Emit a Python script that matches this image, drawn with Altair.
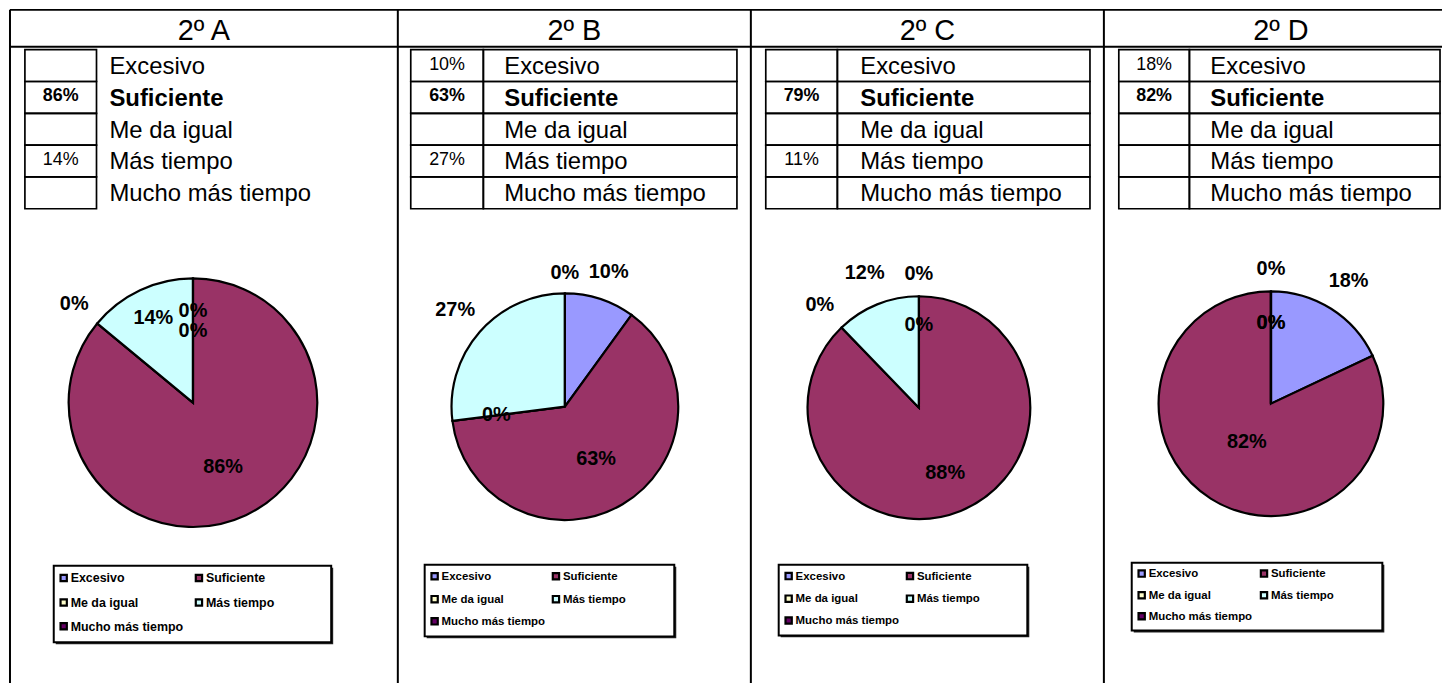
import altair as alt
import pandas as pd

# ---------------- data ----------------
GROUPS = ["2º A", "2º B", "2º C", "2º D"]
CATEGORIES = ["Excesivo", "Suficiente", "Me da igual", "Más tiempo", "Mucho más tiempo"]
COLORS = ["#9999FF", "#993366", "#FFFFCC", "#CCFFFF", "#660066"]
VALUES_A = [None, 86, None, 14, None]
VALUES_B = [10, 63, None, 27, None]
VALUES_C = [None, 79, None, 11, None]
VALUES_D = [18, 82, None, None, None]
VALUES = [VALUES_A, VALUES_B, VALUES_C, VALUES_D]
BOLD_CATEGORY = "Suficiente"

# ---------------- layout ----------------
FONT = "Liberation Sans"
W, H = 1442, 675
X0, Y0 = 8, 8
COL_EDGES = [10, 400, 755, 1110, 1466]
TOP, HEAD_BOTTOM, BOTTOM = 8, 45, 720
HEAD_Y = 29
ROW_TOP, ROW_H = 48, 32
TABLES = [
    dict(x0=25, xd=97, x1=None, pad=13),
    dict(x0=413, xd=486, x1=741, pad=21),
    dict(x0=770, xd=842, x1=1096, pad=23),
    dict(x0=1125, xd=1196, x1=1448, pad=21),
]
PIES = [
    dict(cx=194, cy=403, r=125),
    dict(cx=568, cy=407, r=114),
    dict(cx=924, cy=408, r=112),
    dict(cx=1278, cy=404, r=113),
]
# label distance from centre, as a fraction of the radius (inside / outside placement)
LABEL_RF = [
    [0.74, 0.57, 1.24, 0.75, 0.58],
    [1.25, 0.54, 0.61, 1.29, 1.18],
    [1.20, 0.63, 1.28, 1.30, 0.74],
    [1.29, 0.40, 0.72, 0.72, 1.20],
]
LEGENDS = [
    dict(x0=54, y0=567, x1=333, y1=644, dx2=146, fs=12.5),
    dict(x0=427, y0=566, x1=678, y1=638, dx2=132, fs=11.5),
    dict(x0=783, y0=566, x1=1033, y1=637, dx2=132, fs=11.5),
    dict(x0=1138, y0=564, x1=1390, y1=632, dx2=133, fs=11.5),
]
LEG_ROWS = [0.16, 0.48, 0.79]

xs = alt.Scale(domain=[X0, X0 + W], nice=False, zero=False)
ys = alt.Scale(domain=[Y0, Y0 + H], nice=False, zero=False, reverse=True)
ts = alt.Scale(domain=[0, 1])
cs = alt.Scale(domain=CATEGORIES, range=COLORS)


def X(f):
    return alt.X(f"{f}:Q", scale=xs, axis=None)


def Y(f):
    return alt.Y(f"{f}:Q", scale=ys, axis=None)


# ---------------- frames ----------------
lines, cells, vtext, ltext, heads, pie, leg_box, leg_sw, leg_tx = [], [], [], [], [], [], [], [], []

for e in COL_EDGES:
    lines.append(dict(x=e, x2=e, y=TOP, y2=BOTTOM))
for yy in (TOP, HEAD_BOTTOM):
    lines.append(dict(x=COL_EDGES[0], x2=COL_EDGES[-1], y=yy, y2=yy))

for gi, g in enumerate(GROUPS):
    heads.append(dict(x=(COL_EDGES[gi] + COL_EDGES[gi + 1]) / 2, y=HEAD_Y, t=g))
    tb = TABLES[gi]
    pc = PIES[gi]
    lg = LEGENDS[gi]
    leg_box.append(dict(x=lg["x0"], x2=lg["x1"], y=lg["y0"], y2=lg["y1"],
                        sx=lg["x0"] + 2, sx2=lg["x1"] + 2, sy=lg["y0"] + 2, sy2=lg["y1"] + 2))
    for ci, c in enumerate(CATEGORIES):
        v = VALUES[gi][ci]
        yt, yb = ROW_TOP + ci * ROW_H, ROW_TOP + (ci + 1) * ROW_H
        ym = (yt + yb) / 2
        cells.append(dict(x=tb["x0"], x2=tb["xd"], y=yt, y2=yb))
        if tb["x1"] is not None:
            cells.append(dict(x=tb["xd"], x2=tb["x1"], y=yt, y2=yb))
        if v is not None:
            vtext.append(dict(x=(tb["x0"] + tb["xd"]) / 2, y=ym - 1, t=f"{v}%",
                              b=(c == BOLD_CATEGORY)))
        ltext.append(dict(x=tb["xd"] + tb["pad"], y=ym + 1.5, t=c, b=(c == BOLD_CATEGORY)))
        pie.append(dict(group=g, cat=c, idx=ci, v=(v if v is not None else 0),
                        cx=pc["cx"], cy=pc["cy"], R=pc["r"], lr=LABEL_RF[gi][ci] * pc["r"]))
        col, row = ci % 2, ci // 2
        sx = lg["x0"] + 10 + col * (lg["dx2"] - 10)
        sy = lg["y0"] + LEG_ROWS[row] * (lg["y1"] - lg["y0"])
        leg_sw.append(dict(x=sx, y=sy, cat=c))
        leg_tx.append(dict(x=sx + 7, y=sy + 0.5, t=c, fs=lg["fs"]))

df_lines = pd.DataFrame(lines)
df_cells = pd.DataFrame(cells)
df_v = pd.DataFrame(vtext)
df_l = pd.DataFrame(ltext)
df_h = pd.DataFrame(heads)
df_pie = pd.DataFrame(pie)
df_lb = pd.DataFrame(leg_box)
df_ls = pd.DataFrame(leg_sw)
df_lt = pd.DataFrame(leg_tx)

# ---------------- layers ----------------
rules = alt.Chart(df_lines).mark_rule(color="black", strokeWidth=2).encode(
    x=X("x"), x2="x2:Q", y=Y("y"), y2="y2:Q")

cell_rects = alt.Chart(df_cells).mark_rect(fill="white", fillOpacity=0, stroke="black",
                                           strokeWidth=1.7).encode(
    x=X("x"), x2="x2:Q", y=Y("y"), y2="y2:Q")

head_txt = alt.Chart(df_h).mark_text(font=FONT, fontSize=29, align="center",
                                     baseline="middle", color="black").encode(
    x=X("x"), y=Y("y"), text="t:N")

val_norm = alt.Chart(df_v[~df_v.b]).mark_text(font=FONT, fontSize=18, align="center",
                                              baseline="middle", color="black").encode(
    x=X("x"), y=Y("y"), text="t:N")
val_bold = alt.Chart(df_v[df_v.b]).mark_text(font=FONT, fontSize=18, fontWeight="bold",
                                             align="center", baseline="middle",
                                             color="black").encode(
    x=X("x"), y=Y("y"), text="t:N")
lab_norm = alt.Chart(df_l[~df_l.b]).mark_text(font=FONT, fontSize=24, align="left",
                                              baseline="middle", color="black").encode(
    x=X("x"), y=Y("y"), text="t:N")
lab_bold = alt.Chart(df_l[df_l.b]).mark_text(font=FONT, fontSize=24, fontWeight="bold",
                                             align="left", baseline="middle",
                                             color="black").encode(
    x=X("x"), y=Y("y"), text="t:N")

pie_base = alt.Chart(df_pie).transform_joinaggregate(
    total="sum(v)", groupby=["group"]
).transform_stack(
    stack="v", groupby=["group"], as_=["v0", "v1"],
    sort=[alt.SortField("idx", order="ascending")], offset="normalize"
).transform_calculate(
    mid="(datum.v0 + datum.v1) / 2",
    lab="format(datum.v / datum.total, '.0%')"
)

arcs = pie_base.mark_arc(stroke="black", strokeWidth=2.2).encode(
    x=X("cx"), y=Y("cy"),
    theta=alt.Theta("v0:Q", scale=ts, stack=False), theta2="v1:Q",
    radius=alt.Radius("R:Q", scale=None),
    color=alt.Color("cat:N", scale=cs, legend=None),
)

pie_lab = pie_base.mark_text(font=FONT, fontSize=20, fontWeight="bold", align="center",
                             baseline="middle", color="black").encode(
    x=X("cx"), y=Y("cy"),
    theta=alt.Theta("mid:Q", scale=ts, stack=False),
    radius=alt.Radius("lr:Q", scale=None),
    text="lab:N",
)

leg_shadow = alt.Chart(df_lb).mark_rect(fill="#222222").encode(
    x=X("sx"), x2="sx2:Q", y=Y("sy"), y2="sy2:Q")
leg_frame = alt.Chart(df_lb).mark_rect(fill="white", stroke="black", strokeWidth=2).encode(
    x=X("x"), x2="x2:Q", y=Y("y"), y2="y2:Q")
leg_swatch = alt.Chart(df_ls).mark_square(size=40, filled=True, opacity=1, stroke="black",
                                          strokeWidth=2.2).encode(
    x=X("x"), y=Y("y"), color=alt.Color("cat:N", scale=cs, legend=None))
leg_text = alt.Chart(df_lt).mark_text(font=FONT, fontWeight="bold", align="left",
                                      baseline="middle", color="black").encode(
    x=X("x"), y=Y("y"), text="t:N", size=alt.Size("fs:Q", scale=None))

chart = alt.layer(
    rules, cell_rects, head_txt, val_norm, val_bold, lab_norm, lab_bold,
    arcs, pie_lab, leg_shadow, leg_frame, leg_swatch, leg_text
).properties(
    width=W, height=H, padding=0, autosize="none", background="white"
).configure_view(strokeWidth=0)

chart.save("out.html", embed_options={"renderer": "svg", "actions": False})
